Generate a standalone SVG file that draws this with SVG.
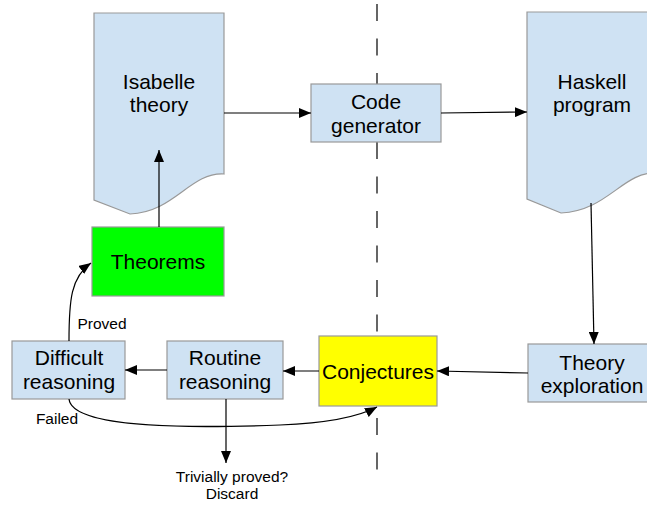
<svg xmlns="http://www.w3.org/2000/svg" width="647" height="506" viewBox="0 0 647 506">
<style>
.box{fill:#cfe2f3;stroke:#999;stroke-width:1.2}
.t{font-family:"Liberation Sans",Arial,sans-serif;font-size:21px;fill:#000;text-anchor:middle}
.s{font-family:"Liberation Sans",Arial,sans-serif;font-size:15.5px;fill:#000;text-anchor:middle}
.c{fill:none;stroke:#000;stroke-width:1.2}
</style>
<defs>
<marker id="ah" viewBox="0 0 12 10" refX="12" refY="5" markerWidth="12" markerHeight="10" markerUnits="userSpaceOnUse" orient="auto">
<path d="M0,0 L12,5 L0,10 Z" fill="#000"/>
</marker>
</defs>
<rect width="647" height="506" fill="#fff"/>
<line x1="377" y1="4" x2="377" y2="470" stroke="#000" stroke-width="1.2" stroke-dasharray="17 17.5"/>
<g id="isabelle">
<path class="box" d="M94,13 H224 V174 C190,172 175,212 130,214 L94,200 Z"/>
<text class="t" x="159" y="89">Isabelle</text>
<text class="t" x="159" y="112">theory</text>
</g>
<g id="haskell">
<path class="box" d="M527,12 H657 V173 C623,171 608,211 561,213 L527,199 Z"/>
<text class="t" x="592" y="89">Haskell</text>
<text class="t" x="592" y="112">program</text>
</g>
<g id="codegen">
<rect class="box" x="311" y="84" width="130" height="58"/>
<text class="t" x="376" y="109">Code</text>
<text class="t" x="376" y="133">generator</text>
</g>
<g id="theorems">
<rect x="92" y="227" width="132" height="69" fill="#00ff00" stroke="#999" stroke-width="1.2"/>
<text class="t" x="158" y="269">Theorems</text>
</g>
<g id="difficult">
<rect class="box" x="12" y="341" width="113" height="58"/>
<text class="t" x="69" y="365">Difficult</text>
<text class="t" x="69" y="389">reasoning</text>
</g>
<g id="routine">
<rect class="box" x="167" y="341" width="116" height="58"/>
<text class="t" x="225" y="365">Routine</text>
<text class="t" x="225" y="389">reasoning</text>
</g>
<g id="conjectures">
<rect x="319" y="336" width="118" height="70" fill="#ffff00" stroke="#999" stroke-width="1.2"/>
<text class="t" x="378" y="379">Conjectures</text>
</g>
<g id="exploration">
<rect class="box" x="528" y="344" width="130" height="58"/>
<text class="t" x="592" y="370">Theory</text>
<text class="t" x="592" y="393">exploration</text>
</g>
<g id="connectors">
<line class="c" x1="224" y1="113" x2="311" y2="113" marker-end="url(#ah)"/>
<line class="c" x1="441" y1="113" x2="527" y2="112" marker-end="url(#ah)"/>
<line class="c" x1="159" y1="227" x2="159" y2="150" marker-end="url(#ah)"/>
<line class="c" x1="591" y1="203" x2="594" y2="344" marker-end="url(#ah)"/>
<line class="c" x1="528" y1="373" x2="437" y2="371" marker-end="url(#ah)"/>
<line class="c" x1="319" y1="371" x2="283" y2="371" marker-end="url(#ah)"/>
<line class="c" x1="167" y1="370" x2="125" y2="370" marker-end="url(#ah)"/>
<line class="c" x1="226" y1="399" x2="226" y2="463" marker-end="url(#ah)"/>
<path class="c" d="M69,341 C69,300 71,277 91,263" marker-end="url(#ah)"/>
<path class="c" d="M69,399 C72,430 200,428 280,425 C330,423 360,416 377,407" marker-end="url(#ah)"/>
</g>
<text class="s" x="102" y="329">Proved</text>
<text class="s" x="57" y="424">Failed</text>
<text class="s" x="232" y="482">Trivially proved?</text>
<text class="s" x="232" y="499">Discard</text>
</svg>
